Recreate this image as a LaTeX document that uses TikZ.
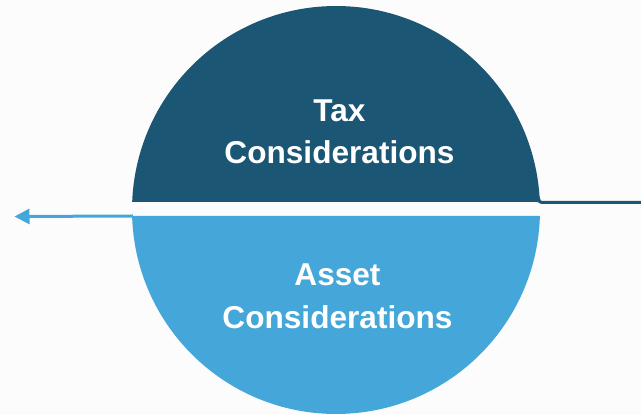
\documentclass[tikz,border=0pt]{standalone}
\usepackage{fontspec}
\setmainfont{Liberation Sans}
\usetikzlibrary{arrows.meta,calc}
\definecolor{darkblue}{RGB}{27,86,117}
\definecolor{lightblue}{RGB}{69,166,217}
\definecolor{bgcol}{RGB}{252,252,252}
\begin{document}
\begin{tikzpicture}[x=1pt,y=1pt,
  label/.style={text=white,font=\fontsize{31.6}{38}\selectfont\bfseries,inner sep=0pt,anchor=base},
  conn/.style={line width=3pt,rounded corners=3pt,-{Triangle[length=15pt,width=15pt]}}]
\fill[bgcol] (0,0) rectangle (641,415);
\useasboundingbox (0,0) rectangle (641,415);
\coordinate (c) at (336,205);
% top half
\fill[darkblue] (c) ++(2.247:204) arc[start angle=2.247,end angle=177.753,radius=204] -- cycle;
% bottom half
\fill[lightblue] (c) ++(181.686:204) arc[start angle=181.686,end angle=358.314,radius=204] -- cycle;
\coordinate (topright) at ($(c)+(2.247:203)$);
\coordinate (botleft) at (133,199);
\coordinate (rightend) at (656,212.5);
\coordinate (leftend) at (14.5,198.5);
\node[label] (tax1) at (339.5,293.3) {Tax};
\node[label] (tax2) at (339.5,251.7) {Considerations};
\node[label] (asset1) at (337.5,129.3) {Asset};
\node[label] (asset2) at (337.5,86.7) {Considerations};
\draw[conn,darkblue] (topright) |- (rightend);
\draw[conn,lightblue] (botleft) -- (leftend);
\end{tikzpicture}
\end{document}
